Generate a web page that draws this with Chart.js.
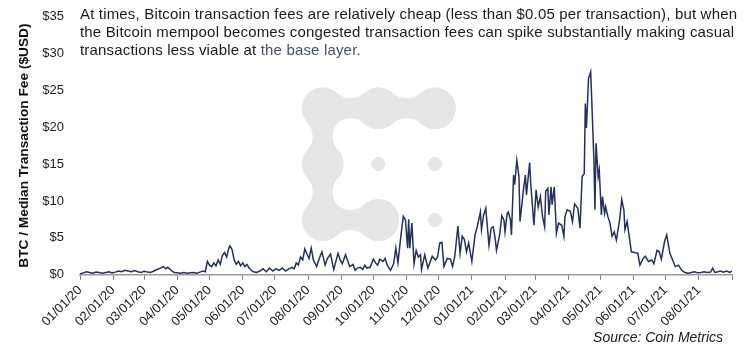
<!DOCTYPE html>
<html>
<head>
<meta charset="utf-8">
<script src="https://cdn.jsdelivr.net/npm/chart.js@4.4.0/dist/chart.umd.min.js"></script>
<style>
    html, body { margin: 0; padding: 0; background: #fff; }
    #wrap { position: relative; width: 756px; height: 360px; }
    #note { position: absolute; left: 80px; top: 5px; font: 15px/18px "Liberation Sans", Arial, sans-serif; letter-spacing: 0.17px; color: #1a1a1a; white-space: nowrap; }
    #note span { color: #44506a; }
    #source { position: absolute; right: 33px; top: 329px; font: italic 14px "Liberation Sans", Arial, sans-serif; color: #1a1a1a; }
</style>
</head>
<body>
<div id="wrap">
    <canvas id="feeChart" width="756" height="360"></canvas>
    <div id="note">At times, Bitcoin transaction fees are relatively cheap (less than $0.05 per transaction), but when<br>the Bitcoin mempool becomes congested transaction fees can spike substantially making casual<br>transactions less viable at <span>the base layer.</span></div>
    <div id="source">Source: Coin Metrics</div>
</div>
<script>
// days since 01/01/2020
const dayIndex = [
    0, 3, 6, 9, 12, 15, 18, 21, 24, 27, 30, 33, 36, 39, 42, 45, 48, 51, 54, 57,
    60, 63, 66, 69, 72, 75, 78, 80, 82, 85, 88, 91, 94, 97, 100, 103, 106, 109, 112, 115,
    117, 119, 121, 123, 125, 127, 129, 131, 133, 135, 137, 139, 140, 142, 144, 146, 148, 150, 152, 154,
    156, 158, 160, 162, 165, 168, 171, 174, 177, 180, 183, 186, 189, 192, 195, 198, 200, 202, 204, 206,
    208, 210, 212, 214, 216, 218, 221, 224, 226, 229, 231, 234, 237, 239, 241, 243, 245, 248, 250, 252,
    255, 257, 259, 262, 264, 266, 268, 271, 274, 276, 278, 280, 283, 285, 287, 290, 293, 295, 297, 300,
    302, 304, 306, 307, 308, 310, 312, 314, 316, 318, 319, 322, 325, 329, 332, 334, 336, 338, 340, 343,
    346, 348, 350, 353, 355, 357, 359, 361, 363, 366, 369, 371, 374, 375, 377, 379, 382, 384, 386, 388,
    389, 392, 394, 396, 397, 399, 400, 402, 403, 405, 406, 408, 410, 411, 414, 416, 417, 420, 421, 424,
    426, 428, 430, 432, 434, 435, 437, 438, 440, 441, 443, 445, 447, 450, 452, 453, 455, 458, 460, 462,
    465, 467, 469, 471, 472, 473, 475, 477, 478, 480, 481, 482, 484, 485, 487, 488, 490, 491, 493, 495,
    497, 499, 501, 504, 506, 508, 509, 511, 513, 515, 518, 521, 523, 526, 528, 531, 534, 536, 539, 541,
    543, 546, 548, 551, 553, 556, 559, 562, 565, 568, 571, 574, 577, 580, 583, 586, 589, 591, 593, 596,
    598, 601, 604, 607, 609
];
// median fee in USD
const feeUsd = [
    0.1, 0.25, 0.4, 0.3, 0.2, 0.35, 0.3, 0.2, 0.3, 0.4, 0.25, 0.35, 0.5, 0.4, 0.6, 0.5, 0.4, 0.55, 0.4, 0.3,
    0.45, 0.35, 0.3, 0.5, 0.7, 0.9, 1.1, 0.8, 1.0, 0.6, 0.3, 0.25, 0.2, 0.3, 0.2, 0.25, 0.3, 0.2, 0.35, 0.5,
    0.4, 1.8, 1.3, 1.1, 1.6, 1.2, 2.0, 1.4, 2.6, 3.0, 2.4, 3.6, 3.9, 3.4, 2.0, 1.4, 1.8, 1.2, 1.6, 1.1,
    1.4, 0.9, 0.6, 0.4, 0.3, 0.5, 0.8, 0.4, 0.9, 0.5, 0.8, 0.6, 0.9, 0.5, 0.8, 1.0, 0.8, 1.6, 1.3, 2.4,
    2.0, 3.5, 2.8, 2.2, 3.6, 2.0, 1.1, 2.4, 3.1, 1.3, 2.2, 2.8, 0.7, 1.8, 2.9, 2.0, 1.5, 2.7, 1.9, 1.1,
    1.4, 0.6, 0.9, 1.0, 0.7, 1.3, 0.9, 1.0, 2.1, 1.6, 1.3, 2.1, 1.8, 2.2, 1.3, 0.6, 1.5, 3.6, 1.6, 5.6,
    7.9, 7.4, 3.6, 7.5, 3.6, 7.0, 1.5, 3.3, 2.4, 2.7, 0.7, 2.7, 0.9, 2.5, 2.0, 2.4, 4.3, 4.4, 1.1, 2.2,
    2.1, 1.1, 2.4, 6.6, 2.9, 5.2, 4.8, 3.1, 4.3, 1.8, 5.4, 6.5, 8.5, 6.1, 8.1, 9.0, 4.0, 6.3, 6.5, 4.7,
    3.3, 5.4, 8.0, 7.4, 5.8, 8.3, 8.5, 7.5, 5.4, 13.5, 12.2, 15.5, 13.3, 7.2, 11.3, 13.5, 10.8, 15.2, 12.4, 6.7,
    11.5, 9.2, 10.6, 7.9, 6.5, 11.3, 11.7, 8.1, 11.9, 9.5, 11.9, 5.6, 7.0, 6.7, 5.2, 7.9, 8.8, 8.6, 7.2, 9.6,
    9.0, 6.3, 13.3, 13.7, 23.2, 19.9, 26.6, 27.5, 23.7, 15.6, 8.8, 17.8, 13.3, 14.2, 8.1, 10.6, 8.3, 9.2, 7.9, 7.0,
    5.2, 5.8, 4.7, 7.4, 10.2, 8.8, 6.1, 7.2, 5.2, 3.1, 3.0, 2.9, 1.3, 2.2, 2.5, 1.8, 2.0, 1.5, 3.3, 3.1,
    2.1, 4.5, 5.4, 2.9, 2.2, 1.1, 1.3, 0.6, 0.3, 0.2, 0.3, 0.4, 0.25, 0.3, 0.4, 0.3, 0.35, 0.9, 0.3, 0.4,
    0.5, 0.35, 0.5, 0.3, 0.5
];
const tickDates = [
    '2020-01-01', '2020-02-01', '2020-03-01', '2020-04-01', '2020-05-01', '2020-06-01', '2020-07-01',
    '2020-08-01', '2020-09-01', '2020-10-01', '2020-11-01', '2020-12-01', '2021-01-01', '2021-02-01',
    '2021-03-01', '2021-04-01', '2021-05-01', '2021-06-01', '2021-07-01', '2021-08-01', '2021-09-01'
];
const tickLabels = [
    '01/01/20', '02/01/20', '03/01/20', '04/01/20', '05/01/20', '06/01/20', '07/01/20',
    '08/01/20', '09/01/20', '10/01/20', '11/01/20', '12/01/20', '01/01/21', '02/01/21',
    '03/01/21', '04/01/21', '05/01/21', '06/01/21', '07/01/21', '08/01/21', ''
];
const yTicks = [0, 5, 10, 15, 20, 25, 30, 35];

const dayZero = Date.parse('2020-01-01');
const tickDays = tickDates.map(d => (Date.parse(d) - dayZero) / 86400000);
const FONT = '"Liberation Sans", Arial, sans-serif';

// grey Coin Metrics logo behind the line
function neck(ctx, ax, ay, bx, by, r, h) {
    const d = Math.hypot(bx - ax, by - ay);
    const ux = (bx - ax) / d, uy = (by - ay) / d;
    const nx = -uy, ny = ux;
    const mx = (ax + bx) / 2, my = (ay + by) / 2;
    const R = ((d / 2) * (d / 2) + h * h - r * r) / (2 * (r - h));
    const arcs = [1, -1].map(s => {
        const cx = mx + nx * s * (h + R), cy = my + ny * s * (h + R);
        const ta = Math.atan2(ay - cy, ax - cx), tb = Math.atan2(by - cy, bx - cx);
        return { cx, cy, ta, tb };
    });
    const sweep = (a0, a1) => { let dlt = a1 - a0; while (dlt > Math.PI) dlt -= 2 * Math.PI; while (dlt < -Math.PI) dlt += 2 * Math.PI; return dlt < 0; };
    ctx.beginPath();
    const c1 = arcs[0], c2 = arcs[1];
    ctx.arc(c1.cx, c1.cy, R, c1.ta, c1.tb, sweep(c1.ta, c1.tb));
    ctx.arc(c2.cx, c2.cy, R, c2.tb, c2.ta, sweep(c2.tb, c2.ta));
    ctx.closePath();
    ctx.fill();
}

const logoPlugin = {
    id: 'logo',
    beforeDatasetsDraw(chart) {
        const ctx = chart.ctx;
        const big = [[322.7, 108.3], [378.3, 108.3], [435, 108.3], [322.7, 164], [322.7, 220], [378.3, 220]];
        const dots = [[378.3, 164], [435, 164], [435, 220]];
        const links = [[0, 1], [1, 2], [0, 3], [3, 4], [4, 5]];
        ctx.save();
        ctx.fillStyle = '#e6e6e6';
        big.forEach(([x, y]) => { ctx.beginPath(); ctx.arc(x, y, 21, 0, Math.PI * 2); ctx.fill(); });
        dots.forEach(([x, y]) => { ctx.beginPath(); ctx.arc(x, y, 7, 0, Math.PI * 2); ctx.fill(); });
        links.forEach(([a, b]) => neck(ctx, big[a][0], big[a][1], big[b][0], big[b][1], 21, 10));
        ctx.restore();
    }
};

new Chart(document.getElementById('feeChart').getContext('2d'), {
    type: 'line',
    data: {
        datasets: [{
            data: dayIndex.map((d, i) => ({ x: d, y: feeUsd[i] })),
            borderColor: '#24325a',
            borderWidth: 1.5,
            pointRadius: 0,
            tension: 0,
            fill: false
        }]
    },
    options: {
        responsive: false,
        animation: false,
        layout: { autoPadding: false, padding: { left: 12, right: 24, top: 16.5, bottom: 0 } },
        plugins: { legend: { display: false }, tooltip: { enabled: false } },
        scales: {
            x: {
                type: 'linear',
                min: tickDays[0],
                max: tickDays[tickDays.length - 1],
                afterBuildTicks: s => { s.ticks = tickDays.map(v => ({ value: v })); },
                afterFit: s => { s.height = 85.3; },
                ticks: {
                    autoSkip: false, maxRotation: 45, minRotation: 45, padding: 3,
                    callback: (v, i) => tickLabels[i],
                    color: '#222', font: { family: FONT, size: 13 }
                },
                grid: { drawOnChartArea: false, drawTicks: true, tickLength: 5, color: '#777', lineWidth: 1 },
                border: { display: true, color: '#9a9a9a', width: 1.5 }
            },
            y: {
                min: yTicks[0],
                max: yTicks[yTicks.length - 1],
                afterBuildTicks: s => { s.ticks = yTicks.map(v => ({ value: v })); },
                afterFit: s => { s.width = 68; s.paddingTop = 0; },
                ticks: { padding: 16, callback: v => '$' + v, color: '#222', font: { family: FONT, size: 13 } },
                grid: { display: false, drawTicks: false },
                border: { display: false },
                title: {
                    display: true, text: 'BTC / Median Transaction Fee ($USD)',
                    color: '#111', font: { family: FONT, size: 13.7, weight: 'bold' }, padding: { top: 4, bottom: 4 }
                }
            }
        }
    },
    plugins: [logoPlugin]
});
</script>
</body>
</html>
